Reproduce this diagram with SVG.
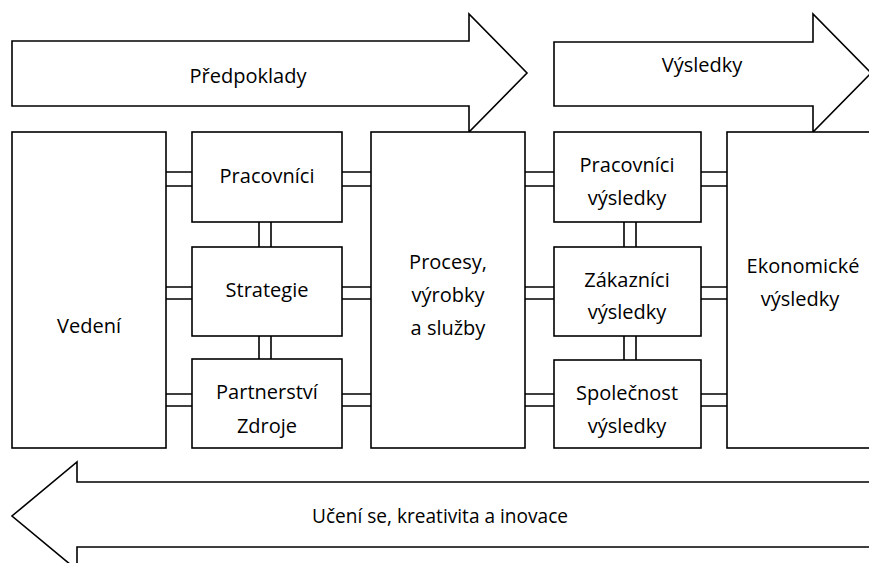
<svg xmlns="http://www.w3.org/2000/svg" width="869" height="563" viewBox="0 0 869 563">
<style>
.s{fill:#fff;stroke:#000;stroke-width:1.6;stroke-linejoin:miter}
.c{stroke:#000;stroke-width:1.6;fill:none}
text{font-family:"Open Sans",Lato,sans-serif;font-size:20px;fill:#000;text-anchor:middle}
</style>
<rect width="869" height="563" fill="#fff"/>
<g id="predpoklady">
<path class="s" d="M12,41 H469 V14 L527,73 L469,132 V106 H12 Z"/>
<text x="248" y="83">Předpoklady</text>
</g>
<g id="vysledky">
<path class="s" d="M554,42 H813 V14 L871,73 L813,132 V106 H554 Z"/>
<text x="702" y="72">Výsledky</text>
</g>
<g id="uceni">
<path class="s" d="M900,482 H77 V462 L12,516 L77,570 V547 H900 Z"/>
<text x="440" y="523" textLength="256" lengthAdjust="spacingAndGlyphs">Učení se, kreativita a inovace</text>
</g>
<g id="vedeni">
<rect class="s" x="12" y="132" width="154" height="316"/>
<text x="89" y="333">Vedení</text>
</g>
<g id="pracovnici">
<rect class="s" x="192" y="132" width="150" height="90"/>
<text x="267" y="183">Pracovníci</text>
</g>
<g id="strategie">
<rect class="s" x="192" y="247" width="150" height="89"/>
<text x="267" y="297">Strategie</text>
</g>
<g id="partnerstvi">
<rect class="s" x="192" y="359" width="150" height="89"/>
<text x="267" y="399">Partnerství</text>
<text x="267" y="433">Zdroje</text>
</g>
<g id="procesy">
<rect class="s" x="371" y="132" width="154" height="316"/>
<text x="448" y="269">Procesy,</text>
<text x="448" y="302">výrobky</text>
<text x="448" y="335">a služby</text>
</g>
<g id="pracovnici-vysledky">
<rect class="s" x="554" y="132" width="147" height="90"/>
<text x="627" y="172">Pracovníci</text>
<text x="627" y="205">výsledky</text>
</g>
<g id="zakaznici-vysledky">
<rect class="s" x="554" y="247" width="147" height="89"/>
<text x="627" y="287">Zákazníci</text>
<text x="627" y="319">výsledky</text>
</g>
<g id="spolecnost-vysledky">
<rect class="s" x="554" y="360" width="147" height="88"/>
<text x="627" y="400">Společnost</text>
<text x="627" y="433">výsledky</text>
</g>
<g id="ekonomicke-vysledky">
<rect class="s" x="727" y="132" width="160" height="316"/>
<text x="803" y="273">Ekonomické</text>
<text x="800" y="306">výsledky</text>
</g>
<g id="connectors" class="c">
<path class="c" d="M166,172H192M166,186H192M342,172H371M342,186H371M525,172H554M525,186H554M701,172H727M701,186H727"/>
<path class="c" d="M166,287H192M166,299H192M342,287H371M342,299H371M525,287H554M525,299H554M701,287H727M701,299H727"/>
<path class="c" d="M166,394H192M166,406H192M342,394H371M342,406H371M525,394H554M525,406H554M701,394H727M701,406H727"/>
<path class="c" d="M259,222V247M271,222V247M259,336V359M271,336V359"/>
<path class="c" d="M624,222V247M636,222V247M624,336V360M636,336V360"/>
</g>
</svg>
